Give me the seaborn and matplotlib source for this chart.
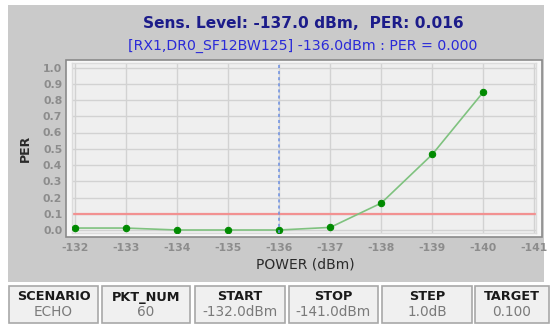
import matplotlib
matplotlib.use("Agg")
import matplotlib.pyplot as plt
from matplotlib.patches import Rectangle
import seaborn as sns
import pandas as pd

# Sweep results
power_dbm = [-132, -133, -134, -135, -136, -137, -138, -139, -140]
per_values = [0.012, 0.012, 0.0, 0.0, 0.0, 0.016, 0.166, 0.466, 0.85]
x_ticks = [-132, -133, -134, -135, -136, -137, -138, -139, -140, -141]
y_ticks = [0.0, 0.1, 0.2, 0.3, 0.4, 0.5, 0.6, 0.7, 0.8, 0.9, 1.0]
target_per = 0.1
sens_marker_dbm = -136.0

title_main = "Sens. Level: -137.0 dBm,  PER: 0.016"
title_sub = "[RX1,DR0_SF12BW125] -136.0dBm : PER = 0.000"
x_label = "POWER (dBm)"
y_label = "PER"

box_names = ["SCENARIO", "PKT_NUM", "START", "STOP", "STEP", "TARGET"]
box_values = ["ECHO", "60", "-132.0dBm", "-141.0dBm", "1.0dB", "0.100"]

W, H = 552, 325
sns.set_theme(style="white")
plt.rcParams["font.family"] = ["DejaVu Sans"]
plt.rcParams["axes.unicode_minus"] = False

fig = plt.figure(figsize=(W / 100, H / 100), dpi=100)
fig.patch.set_facecolor("white")


def fx(px):
    return px / W


def fy(py):
    return 1 - py / H


def frect(x0, y0, x1, y1, **kw):
    r = Rectangle((fx(x0), fy(y1)), fx(x1) - fx(x0), fy(y0) - fy(y1),
                  transform=fig.transFigure, **kw)
    fig.patches.append(r)
    return r


# grey panel behind the chart
frect(8, 5, 544, 282, facecolor="#cacaca", edgecolor="none", zorder=0)
# chart frame
frect(66, 60, 542, 237, facecolor="#f7f7f7", edgecolor="#8a8a8a",
      linewidth=1.2, zorder=1)

# plotting area
ax_l, ax_r, ax_t, ax_b = 72, 536, 63, 233
ax = fig.add_axes([fx(ax_l), fy(ax_b), fx(ax_r) - fx(ax_l), fy(ax_t) - fy(ax_b)])
ax.set_zorder(2)
ax.set_facecolor("#efefef")

df = pd.DataFrame({"power": power_dbm, "per": per_values})

ax.axhline(target_per, color="#f29191", linewidth=1.6, zorder=2)
sns.lineplot(data=df, x="power", y="per", ax=ax, color="#7fc27f",
             linewidth=1.2, marker="o", markersize=4.6,
             markerfacecolor="#008a00", markeredgecolor="#008a00",
             zorder=3)
ax.axvline(sens_marker_dbm, color="#6b8fe3", linewidth=1.1,
           linestyle=(0, (2, 2)), zorder=4)

# axis limits: x runs from -132 (left) toward -141 (right)
px_per_db = 51.0
x_left = -132 + (75 - ax_l) / px_per_db
x_right = -141 - (ax_r - 534.5) / px_per_db
ax.set_xlim(x_left, x_right)
px_per_unit = 162.5
y0_px = 230
ax.set_ylim(-(ax_b - y0_px) / px_per_unit, 1 + (y0_px - px_per_unit - ax_t) / px_per_unit)

ax.set_xticks(x_ticks)
ax.set_xticklabels([str(v) for v in x_ticks])
ax.set_yticks(y_ticks)
ax.set_yticklabels([f"{v:.1f}" for v in y_ticks])
ax.grid(True, color="#d2d2d2", linewidth=1.0)
ax.set_axisbelow(True)
ax.tick_params(length=0, labelsize=7.8, labelcolor="#8c8c8c", pad=7)
for lab in ax.get_xticklabels() + ax.get_yticklabels():
    lab.set_fontweight("bold")
for s in ax.spines.values():
    s.set_color("#dcdcdc")
    s.set_linewidth(1.0)

ax.set_xlabel(x_label, fontsize=10, color="#2a2a2a")
ax.set_ylabel(y_label, fontsize=9, color="#2a2a2a", fontweight="bold")
ax.xaxis.set_label_coords((305 - ax_l) / (ax_r - ax_l), (ax_b - 265) / (ax_b - ax_t))
ax.yaxis.set_label_coords((25 - ax_l) / (ax_r - ax_l), (ax_b - 148) / (ax_b - ax_t))
ax.xaxis.label.set_va("center")
ax.yaxis.label.set_va("center")

fig.text(fx(303), fy(23), title_main, ha="center", va="center",
         fontsize=11.1, fontweight="bold", color="#1c1c8a")
fig.text(fx(303), fy(46), title_sub, ha="center", va="center",
         fontsize=10.2, color="#2a2ad8")

# settings boxes along the bottom
box_edges = [(9, 98), (102, 190), (195, 285), (289, 378), (382, 472), (475, 549)]
for (x0, x1), name, val in zip(box_edges, box_names, box_values):
    frect(x0, 286, x1, 323, facecolor="#f0f0f0", edgecolor="#a8a8a8",
          linewidth=1.2, zorder=1)
    cx = (x0 + x1) / 2
    fig.text(fx(cx), fy(297), name, ha="center", va="center",
             fontsize=9.3, fontweight="bold", color="#1a1a1a")
    fig.text(fx(cx), fy(312.5), val, ha="center", va="center",
             fontsize=9.8, color="#7a7a7a")

fig.savefig("out.png", dpi=100, facecolor="white")
